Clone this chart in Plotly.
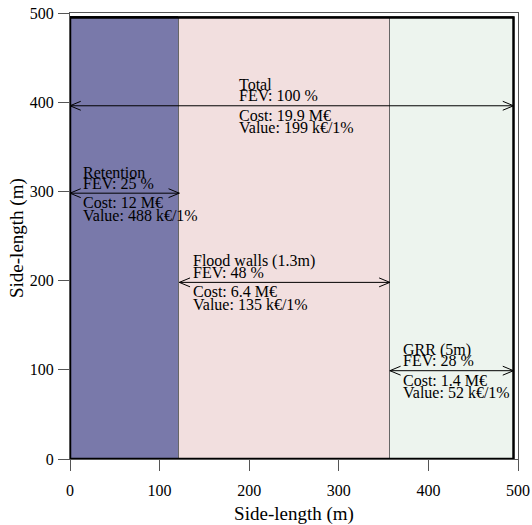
import plotly.graph_objects as go

# ---- data ----
measures = ["Retention", "Flood walls (1.3m)", "GRR (5m)"]
bounds = [0, 122, 357, 495]          # side-length boundaries (m)
side = 495                           # total side-length (m)
fills = ["#7979aa", "#f2dfdf", "#edf4ee"]
edges = ["#111111", "#666666", "#666666"]

arrow_labels = ["Total", "Retention", "Flood walls (1.3m)", "GRR (5m)"]
arrow_x0 = [0, 0, 122, 357]
arrow_x1 = [495, 122, 357, 495]
arrow_y = [396, 298, 198, 99]
text_x = [187, 13, 136, 370]
fev = ["FEV: 100 %", "FEV: 25 %", "FEV: 48 %", "FEV: 28 %"]
cost = ["Cost: 19.9 M€", "Cost: 12 M€", "Cost: 6.4 M€", "Cost: 1.4 M€"]
value = ["Value: 199 k€/1%", "Value: 488 k€/1%", "Value: 135 k€/1%", "Value: 52 k€/1%"]

x_ticks = [0, 100, 200, 300, 400, 500]
y_ticks = [0, 100, 200, 300, 400, 500]
x_title = "Side-length (m)"
y_title = "Side-length (m)"

FONT = "Liberation Serif"

fig = go.Figure()

# rectangles as bars
centers = [(bounds[i] + bounds[i + 1]) / 2 for i in range(3)]
widths = [bounds[i + 1] - bounds[i] for i in range(3)]
fig.add_trace(go.Bar(
    x=centers, y=[side] * 3, width=widths,
    marker=dict(color=fills, line=dict(color=edges, width=1)),
    hoverinfo="skip", showlegend=False,
))

# outer thick border
fig.add_shape(type="rect", x0=0, x1=side, y0=0, y1=side,
              line=dict(color="black", width=2.5), fillcolor="rgba(0,0,0,0)",
              layer="above")

# double arrows with open heads
HL = 12   # head length (data units)
HW = 5    # head half-width (data units)
for x0, x1, y in zip(arrow_x0, arrow_x1, arrow_y):
    xs = [x0, x1, None, x0 + HL, x0, x0 + HL, None, x1 - HL, x1, x1 - HL]
    ys = [y, y, None, y + HW, y, y - HW, None, y + HW, y, y - HW]
    fig.add_trace(go.Scatter(x=xs, y=ys, mode="lines",
                             line=dict(color="black", width=1),
                             hoverinfo="skip", showlegend=False))

# texts
for lab, f, c, v, tx, y in zip(arrow_labels, fev, cost, value, text_x, arrow_y):
    for t, sh in [(lab, 21), (f, 10), (c, -9.5), (v, -22)]:
        fig.add_annotation(x=tx, y=y, text=t, showarrow=False,
                           xanchor="left", yanchor="middle", yshift=sh,
                           borderpad=0,
                           font=dict(family=FONT, size=16, color="black"))

# y-axis title as a rotated annotation (precise placement)
fig.add_annotation(xref="paper", yref="paper", x=0, y=0.5, text=y_title,
                   textangle=-90, showarrow=False, xanchor="center",
                   yanchor="middle", xshift=-53, yshift=-2,
                   font=dict(family=FONT, size=19, color="black"))

axis_common = dict(
    showgrid=False, zeroline=False, showline=True, linecolor="#555555",
    linewidth=1, mirror=True, ticks="outside", ticklen=11, tickcolor="#555555",
    tickfont=dict(family=FONT, size=16, color="black"), automargin=False,
)
fig.update_xaxes(range=[0, 500], tickvals=x_ticks, ticklabelstandoff=6,
                 title=dict(text=x_title, standoff=10,
                            font=dict(family=FONT, size=19, color="black")),
                 **axis_common)
fig.update_yaxes(range=[0, 500], tickvals=y_ticks, ticklabelstandoff=1,
                 **axis_common)

fig.update_layout(
    width=532, height=525,
    margin=dict(l=70, r=14, t=13, b=66),
    plot_bgcolor="white", paper_bgcolor="white",
    barmode="overlay", bargap=0,
    showlegend=False,
)

# remove the default 8px page margin so the figure fills the window
fig.write_html("out.html",
               config={"displayModeBar": False},
               post_script="document.body.style.margin='0';")
